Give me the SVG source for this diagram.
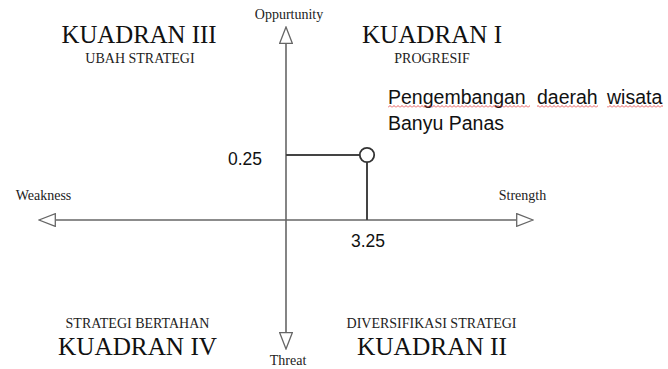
<svg xmlns="http://www.w3.org/2000/svg" width="668" height="369" viewBox="0 0 668 369">
<style>
.big{font-family:"Liberation Serif","Times New Roman",serif;font-size:26px;fill:#111;text-anchor:middle}
.sub{font-family:"Liberation Serif","Times New Roman",serif;font-size:14px;fill:#222;text-anchor:middle}
.ax{font-family:"Liberation Serif","Times New Roman",serif;font-size:14px;fill:#222;text-anchor:middle}
.sans{font-family:"Liberation Sans",Arial,sans-serif;font-size:19.5px;fill:#111}
.num{font-family:"Liberation Sans",Arial,sans-serif;font-size:17.5px;fill:#111}
.axis{stroke:#666;stroke-width:1.6;fill:none}
.lead{stroke:#444;stroke-width:2;fill:none}
</style>
<defs>
<marker id="arr" viewBox="0 0 18 14" refX="0" refY="7" markerWidth="18" markerHeight="14" markerUnits="userSpaceOnUse" orient="auto-start-reverse">
<path d="M0.7,0.7 L17,7 L0.7,13.3 Z" fill="#fff" stroke="#666" stroke-width="1.3"/>
</marker>
<pattern id="wave" x="0" y="0" width="4" height="3" patternUnits="userSpaceOnUse">
<path d="M0,2.5 L2,0.5 L4,2.5" fill="none" stroke="#e03030" stroke-width="0.8"/>
</pattern>
</defs>
<rect width="668" height="369" fill="#fff"/>

<g id="connectors">
<line class="axis" x1="286" y1="44" x2="286" y2="332" marker-start="url(#arr)" marker-end="url(#arr)"/>
<line class="axis" x1="56" y1="220" x2="516" y2="220" marker-start="url(#arr)" marker-end="url(#arr)"/>
<line class="lead" x1="286" y1="155" x2="360" y2="155"/>
<line class="lead" x1="367" y1="162" x2="367" y2="220"/>
</g>

<g id="point">
<circle cx="367" cy="155" r="7.2" fill="#fff" stroke="#333" stroke-width="1.8"/>
</g>

<g id="axis-labels">
<text class="ax" x="289" y="19">Oppurtunity</text>
<text class="ax" x="288" y="365">Threat</text>
<text class="ax" x="43.5" y="200">Weakness</text>
<text class="ax" x="522.5" y="200">Strength</text>
<text class="num" x="228" y="165">0.25</text>
<text class="num" x="351" y="247">3.25</text>
</g>

<g id="kuadran-3">
<text class="big" x="139" y="43" textLength="155" lengthAdjust="spacingAndGlyphs">KUADRAN III</text>
<text class="sub" x="140" y="63">UBAH STRATEGI</text>
</g>

<g id="kuadran-1">
<text class="big" x="432" y="43" textLength="140" lengthAdjust="spacingAndGlyphs">KUADRAN I</text>
<text class="sub" x="432" y="63">PROGRESIF</text>
</g>

<g id="kuadran-4">
<text class="sub" x="137.5" y="328">STRATEGI BERTAHAN</text>
<text class="big" x="137.5" y="355" textLength="159" lengthAdjust="spacingAndGlyphs">KUADRAN IV</text>
</g>

<g id="kuadran-2">
<text class="sub" x="431.5" y="328">DIVERSIFIKASI STRATEGI</text>
<text class="big" x="432" y="355" textLength="150" lengthAdjust="spacingAndGlyphs">KUADRAN II</text>
</g>

<g id="note">
<text class="sans" x="388" y="103.5">Pengembangan</text>
<text class="sans" x="537" y="103.5">daerah</text>
<text class="sans" x="607" y="103.5">wisata</text>
<text class="sans" x="388" y="130">Banyu Panas</text>
<rect x="388" y="105" width="142" height="3" fill="url(#wave)"/>
<rect x="537" y="105" width="61" height="3" fill="url(#wave)"/>
<rect x="607" y="105" width="56" height="3" fill="url(#wave)"/>
</g>
</svg>
